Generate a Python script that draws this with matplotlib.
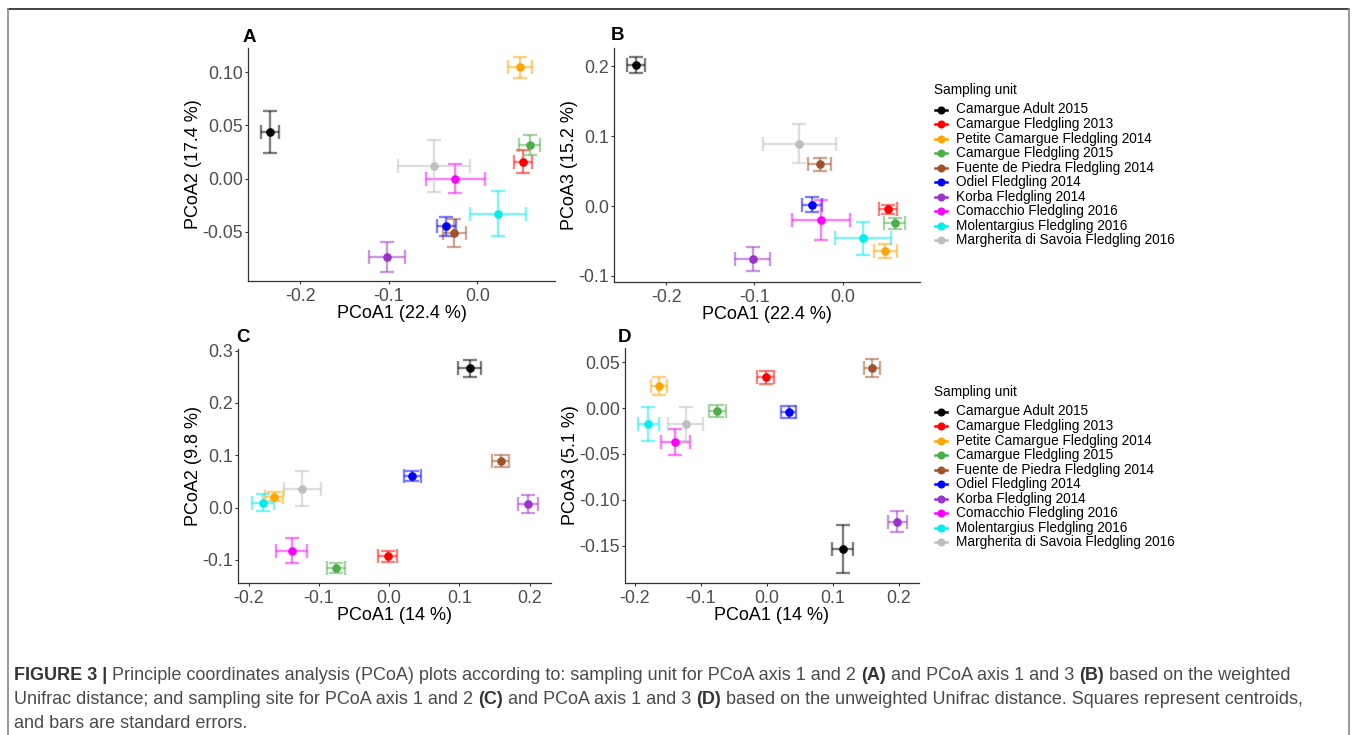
import matplotlib
matplotlib.use('Agg')
import matplotlib.pyplot as plt
from matplotlib.lines import Line2D

plt.rcParams['font.family'] = ['Liberation Sans', 'DejaVu Sans']

### Data ###

units = ['Camargue Adult 2015', 'Camargue Fledgling 2013',
         'Petite Camargue Fledgling 2014', 'Camargue Fledgling 2015',
         'Fuente de Piedra Fledgling 2014', 'Odiel Fledgling 2014',
         'Korba Fledgling 2014', 'Comacchio Fledgling 2016',
         'Molentargius Fledgling 2016', 'Margherita di Savoia Fledgling 2016']
colors = ['#000000', '#FF0000', '#FFA500', '#4DAF4A', '#A0522D',
          '#0000FF', '#9A32CD', '#FF00FF', '#00EEEE', '#BEBEBE']

# weighted Unifrac (A, B)
pc1_w = [-0.234, 0.051, 0.048, 0.059, -0.026, -0.035, -0.102, -0.025, 0.023, -0.049]
pc1_w_se = [0.010, 0.010, 0.013, 0.012, 0.013, 0.011, 0.020, 0.033, 0.032, 0.041]
pc2_w = [0.044, 0.016, 0.1047, 0.0315, -0.0515, -0.0449, -0.0736, 0.000, -0.033, 0.0117]
pc2_w_se = [0.020, 0.0105, 0.0097, 0.0094, 0.0134, 0.0091, 0.0142, 0.0138, 0.0209, 0.0242]
pc3_w = [0.2018, -0.0043, -0.0646, -0.0244, 0.0598, 0.0019, -0.0756, -0.020, -0.0459, 0.0894]
pc3_w_se = [0.0112, 0.0065, 0.0103, 0.0079, 0.0096, 0.0105, 0.0175, 0.029, 0.0237, 0.0275]

# unweighted Unifrac (C, D)
pc1_u = [0.1147, -0.0019, -0.1635, -0.075, 0.159, 0.0329, 0.1978, -0.1388, -0.1797, -0.1232]
pc1_u_se = [0.0163, 0.0132, 0.0126, 0.0128, 0.0119, 0.0119, 0.0138, 0.022, 0.016, 0.027]
pc2_u = [0.2664, -0.0932, 0.021, -0.1156, 0.0886, 0.0599, 0.0069, -0.0823, 0.0095, 0.0357]
pc2_u_se = [0.016, 0.0102, 0.0086, 0.0102, 0.0118, 0.0093, 0.0166, 0.0233, 0.0156, 0.0335]
pc3_u = [-0.154, 0.0335, 0.024, -0.003, 0.0438, -0.004, -0.124, -0.0372, -0.0175, -0.0175]
pc3_u_se = [0.0263, 0.0069, 0.0098, 0.0069, 0.010, 0.0067, 0.0113, 0.014, 0.0182, 0.0186]

xticks_w = [-0.2, -0.1, 0.0]
xticklabels_w = ['-0.2', '-0.1', '0.0']
xticks_u = [-0.2, -0.1, 0.0, 0.1, 0.2]
xticklabels_u = ['-0.2', '-0.1', '0.0', '0.1', '0.2']
yticks_a = [-0.05, 0.0, 0.05, 0.10]
yticklabels_a = ['-0.05', '0.00', '0.05', '0.10']
yticks_b = [-0.1, 0.0, 0.1, 0.2]
yticklabels_b = ['-0.1', '0.0', '0.1', '0.2']
yticks_c = [-0.1, 0.0, 0.1, 0.2, 0.3]
yticklabels_c = ['-0.1', '0.0', '0.1', '0.2', '0.3']
yticks_d = [-0.15, -0.10, -0.05, 0.0, 0.05]
yticklabels_d = ['-0.15', '-0.10', '-0.05', '0.00', '0.05']

W, H = 1357, 735
fig = plt.figure(figsize=(W / 100, H / 100), dpi=100)

def px_axes(left, top, right, bottom):
    return fig.add_axes([left / W, 1 - bottom / H, (right - left) / W, (bottom - top) / H])

def draw_panel(ax, x, xse, y, yse, xlim, ylim, xt, xtl, yt, ytl, xlabel, ylabel):
    for i in range(len(x)):
        ax.errorbar(x[i], y[i], xerr=xse[i], yerr=yse[i], fmt='none',
                    ecolor=colors[i], alpha=0.5, elinewidth=1.7, capsize=4.8,
                    capthick=1.7)
        ax.plot(x[i], y[i], 'o', color=colors[i], markersize=5.2, zorder=3)
    ax.set_xlim(xlim)
    ax.set_ylim(ylim)
    ax.set_xticks(xt)
    ax.set_xticklabels(xtl)
    ax.set_yticks(yt)
    ax.set_yticklabels(ytl)
    ax.set_xlabel(xlabel, fontsize=13, labelpad=0.5)
    ax.set_ylabel(ylabel, fontsize=13, labelpad=0.5)
    for s in ['top', 'right']:
        ax.spines[s].set_visible(False)
    for s in ['left', 'bottom']:
        ax.spines[s].set_color('#333333')
        ax.spines[s].set_linewidth(0.9)
    ax.tick_params(length=2.5, width=0.8, color='#333333', labelsize=12.8,
                   labelcolor='#4D4D4D')
    ax.tick_params(axis='x', pad=2.2)
    ax.tick_params(axis='y', pad=1.2)

axA = px_axes(248, 48, 555, 281)
draw_panel(axA, pc1_w, pc1_w_se, pc2_w, pc2_w_se, (-0.259, 0.0875), (-0.0965, 0.123),
           xticks_w, xticklabels_w, yticks_a, yticklabels_a,
           'PCoA1 (22.4 %)', 'PCoA2 (17.4 %)')
axB = px_axes(614, 48, 920, 282)
draw_panel(axB, pc1_w, pc1_w_se, pc3_w, pc3_w_se, (-0.259, 0.0875), (-0.1086, 0.226),
           xticks_w, xticklabels_w, yticks_b, yticklabels_b,
           'PCoA1 (22.4 %)', 'PCoA3 (15.2 %)')
axC = px_axes(238, 349, 551, 583)
draw_panel(axC, pc1_u, pc1_u_se, pc2_u, pc2_u_se, (-0.215, 0.2305), (-0.1443, 0.303),
           xticks_u, xticklabels_u, yticks_c, yticklabels_c,
           'PCoA1 (14 %)', 'PCoA2 (9.8 %)')
axD = px_axes(625, 348, 919, 583)
draw_panel(axD, pc1_u, pc1_u_se, pc3_u, pc3_u_se, (-0.215, 0.2305), (-0.1908, 0.0656),
           xticks_u, xticklabels_u, yticks_d, yticklabels_d,
           'PCoA1 (14 %)', 'PCoA3 (5.1 %)')

# panel letters
for letter, px, py in [('A', 243, 38), ('B', 611, 36), ('C', 236, 338), ('D', 618, 337)]:
    fig.text(px / W, 1 - py / H, letter, fontsize=13.5, fontweight='bold',
             va='center', ha='left')

# legends
def draw_legend(top):
    fig.text(934 / W, 1 - top / H, 'Sampling unit', fontsize=9.8, va='center')
    for i, lab in enumerate(units):
        yy = 1 - (top + 19.5 + i * 14.55) / H
        fig.add_artist(Line2D([935 / W, 947 / W], [yy, yy], color=colors[i],
                              lw=1.8, transform=fig.transFigure))
        fig.add_artist(Line2D([941 / W], [yy], marker='o', markersize=4.8,
                              color=colors[i], transform=fig.transFigure))
        fig.text(956 / W, yy, lab, fontsize=9.8, va='center')

draw_legend(90)
draw_legend(392)

# frame around figure
frame = dict(transform=fig.transFigure, lw=1.2)
fig.add_artist(Line2D([8 / W, 1349 / W], [1 - 9 / H, 1 - 9 / H], color='#222222', **frame))
fig.add_artist(Line2D([8 / W, 8 / W], [1 - 9 / H, 0], color='#888888', **frame))
fig.add_artist(Line2D([1349 / W, 1349 / W], [1 - 9 / H, 0], color='#888888', **frame))

# caption with bold pieces
caption = [
    [('FIGURE 3 |', True),
     (' Principle coordinates analysis (PCoA) plots according to: sampling unit for PCoA axis 1 and 2', False),
     (' (A)', True), (' and PCoA axis 1 and 3', False), (' (B)', True),
     (' based on the weighted', False)],
    [('Unifrac distance; and sampling site for PCoA axis 1 and 2', False), (' (C)', True),
     (' and PCoA axis 1 and 3', False), (' (D)', True),
     (' based on the unweighted Unifrac distance. Squares represent centroids,', False)],
    [('and bars are standard errors.', False)],
]
cap_size = 13.0
renderer = fig.canvas.get_renderer()

def text_w(s, bold):
    t = fig.text(0, 0, s, fontsize=cap_size, fontweight='bold' if bold else 'normal')
    w = t.get_window_extent(renderer).width
    t.remove()
    return w

space_w = text_w('a a', False) - text_w('aa', False)
for row, segs in enumerate(caption):
    x = 14
    y = 676 + row * 23.5
    for seg, bold in segs:
        if seg.startswith(' '):
            x += space_w
        s = seg.strip()
        fig.text(x / W, 1 - y / H, s, fontsize=cap_size, va='center',
                 fontweight='bold' if bold else 'normal',
                 color='#333333' if bold else '#4A4A4A')
        x += text_w(s, bold)

fig.savefig('out.png', dpi=100)
